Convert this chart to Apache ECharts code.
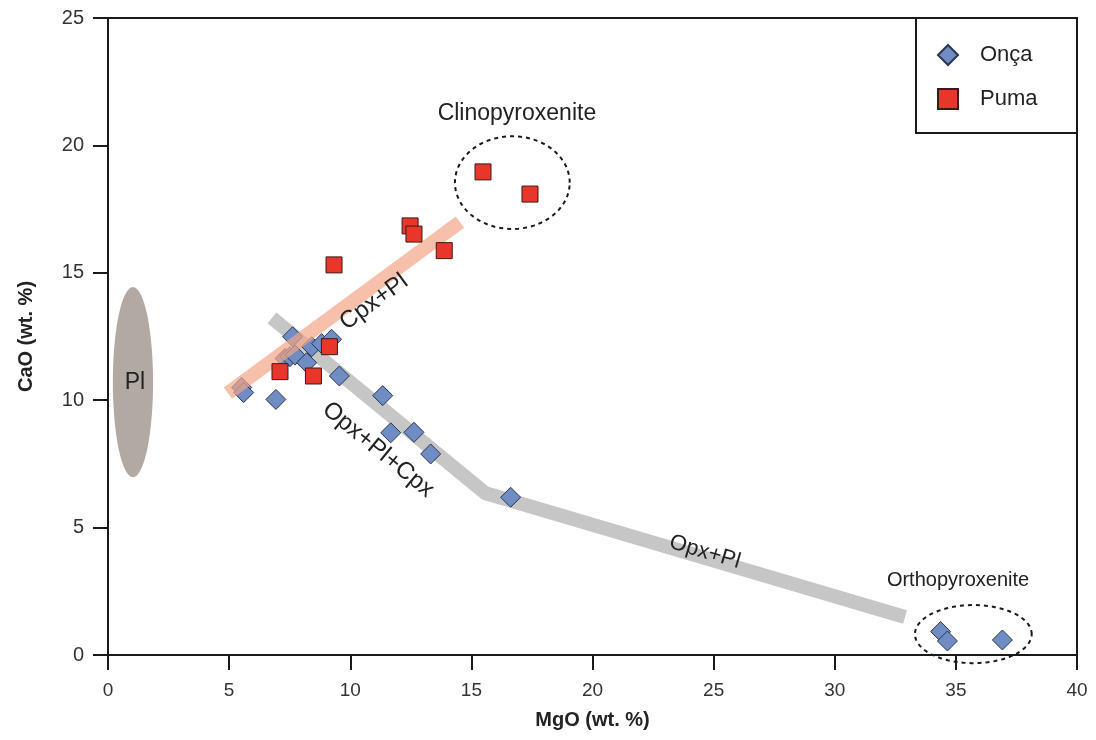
<!DOCTYPE html>
<html>
<head>
<meta charset="UTF-8">
<title>MgO vs CaO</title>
<script type="text/javascript" src="https://cdn.jsdelivr.net/npm/echarts@6/dist/echarts.min.js"></script>
<style>
  html, body { margin: 0; padding: 0; background: #fff; }
</style>
</head>
<body>

<div id="box" style="width:1096px;height:740px;"></div>

<script type="text/javascript">

// Onça samples (diamonds)
var oncaMgO = [5.52, 5.60, 6.93, 7.62, 7.31, 7.51, 7.72, 8.20, 8.41, 8.82, 9.23, 9.55, 11.34, 11.67, 12.63, 13.32, 16.62, 34.37, 34.65, 36.92];
var oncaCaO = [10.50, 10.30, 10.03, 12.49, 11.64, 11.71, 11.77, 11.47, 12.10, 12.22, 12.39, 10.95, 10.18, 8.72, 8.74, 7.89, 6.19, 0.92, 0.55, 0.59];

// Puma samples (squares)
var pumaMgO = [7.10, 8.48, 9.14, 9.33, 12.47, 12.63, 13.88, 15.48, 17.42];
var pumaCaO = [11.12, 10.95, 12.10, 15.31, 16.84, 16.52, 15.87, 18.96, 18.09];

// trend bands
var cpxPlBand = [[4.95, 10.28], [14.53, 16.99]];
var opxBand = [[6.77, 13.23], [15.56, 6.36], [32.90, 1.49]];

// fields: cx, cy, rx, ry
var plField = [[1.03, 10.71, 0.83, 3.73]];
var dashedFields = [[16.69, 18.54, 2.37, 1.82], [35.72, 0.82, 2.41, 1.14]];

// annotations: x, y, rotation (deg), font size
var noteText = ['Clinopyroxenite', 'Orthopyroxenite', 'Pl', 'Cpx+Pl', 'Opx+Pl+Cpx', 'Opx+Pl'];
var notePos = [[16.88, 21.23, 0, 23], [35.09, 2.94, 0, 20], [1.11, 10.67, 0, 23], [10.98, 13.85, 36.4, 24], [11.15, 8.05, -39.4, 24], [24.64, 4.04, -16.4, 22]];

var xTicks = [0, 40, 5];
var yTicks = [0, 25, 5];

function zip(a, b) {
  var out = [];
  for (var i = 0; i < a.length; i++) out.push([a[i], b[i]]);
  return out;
}

function ellipseItem(fill, stroke, dash) {
  return function (params, api) {
    var cx = api.value(0), cy = api.value(1), rx = api.value(2), ry = api.value(3);
    var pts = [];
    for (var k = 0; k < 90; k++) {
      var t = k / 90 * Math.PI * 2;
      pts.push(api.coord([cx + rx * Math.cos(t), cy + ry * Math.sin(t)]));
    }
    return {
      type: 'polygon',
      shape: { points: pts },
      style: { fill: fill, stroke: stroke, lineWidth: 2, lineDash: dash }
    };
  };
}

var mychart = echarts.init(document.getElementById('box'));

var option = {
  animation: false,
  grid: {
    left: 108, right: 19, top: 18, bottom: 85,
    show: true, borderColor: '#1a1a1a', borderWidth: 2
  },
  legend: {
    orient: 'vertical',
    left: 932, top: 39,
    itemWidth: 20, itemHeight: 20, itemGap: 22,
    data: ['Onça', 'Puma'],
    textStyle: { fontSize: 22, color: '#222', fontFamily: 'Liberation Sans, Arial, sans-serif', padding: [0, 0, 0, 17] }
  },
  graphic: [{
    type: 'rect', z: 1,
    shape: { x: 916, y: 18, width: 161, height: 115 },
    style: { fill: '#fff', stroke: '#1a1a1a', lineWidth: 2 }
  }],
  xAxis: {
    type: 'value', min: xTicks[0], max: xTicks[1], interval: xTicks[2],
    name: 'MgO (wt. %)', nameLocation: 'middle', nameGap: 55,
    nameTextStyle: { fontSize: 20, fontWeight: 'bold', color: '#222', fontFamily: 'Liberation Sans, Arial' },
    axisLine: { lineStyle: { color: '#1a1a1a', width: 2 } },
    axisTick: { inside: false, length: 15, lineStyle: { color: '#1a1a1a', width: 2 } },
    axisLabel: { margin: 26, fontSize: 19, color: '#333', fontFamily: 'Liberation Sans, Arial' },
    splitLine: { show: false }
  },
  yAxis: {
    type: 'value', min: yTicks[0], max: yTicks[1], interval: yTicks[2],
    name: 'CaO (wt. %)', nameLocation: 'middle', nameGap: 72,
    nameTextStyle: { fontSize: 20, fontWeight: 'bold', color: '#222', fontFamily: 'Liberation Sans, Arial' },
    axisLine: { lineStyle: { color: '#1a1a1a', width: 2 } },
    axisTick: { inside: false, length: 15, lineStyle: { color: '#1a1a1a', width: 2 } },
    axisLabel: { margin: 24, fontSize: 20, color: '#333', fontFamily: 'Liberation Sans, Arial' },
    splitLine: { show: false }
  },
  series: [
    {
      name: 'Pl field', type: 'custom', silent: true, z: 1,
      renderItem: ellipseItem('#b3a9a3', null, null),
      data: plField
    },
    {
      name: 'fields', type: 'custom', silent: true, z: 1,
      renderItem: ellipseItem(null, '#1a1a1a', [4, 4]),
      data: dashedFields
    },
    {
      name: 'Opx band', type: 'line', silent: true, z: 2, symbol: 'none',
      lineStyle: { color: '#c6c6c6', width: 14, cap: 'butt', join: 'round' },
      data: opxBand
    },
    {
      name: 'Onça', type: 'scatter', z: 3, symbol: 'diamond', symbolSize: 20,
      itemStyle: { color: '#6f8cc4', borderColor: '#2a3550', borderWidth: 1, opacity: 1 },
      data: zip(oncaMgO, oncaCaO)
    },
    {
      name: 'Cpx band', type: 'line', silent: true, z: 4, symbol: 'none',
      lineStyle: { color: '#f4a587', width: 14, cap: 'butt', opacity: 0.7 },
      data: cpxPlBand
    },
    {
      name: 'Puma', type: 'scatter', z: 5, symbol: 'rect', symbolSize: 16,
      itemStyle: { color: '#e8372a', borderColor: '#3a1a1a', borderWidth: 1, opacity: 1 },
      data: zip(pumaMgO, pumaCaO)
    },
    {
      name: 'notes', type: 'custom', silent: true, z: 6,
      renderItem: function (params, api) {
        var p = api.coord([api.value(0), api.value(1)]);
        return {
          type: 'text',
          x: p[0], y: p[1],
          rotation: api.value(2) * Math.PI / 180,
          style: {
            text: noteText[params.dataIndex],
            fontSize: api.value(3), fontFamily: 'Liberation Sans, Arial, sans-serif',
            fill: '#222', align: 'center', verticalAlign: 'middle'
          }
        };
      },
      data: notePos
    }
  ]
};

mychart.setOption(option);
</script>
</body>
</html>
